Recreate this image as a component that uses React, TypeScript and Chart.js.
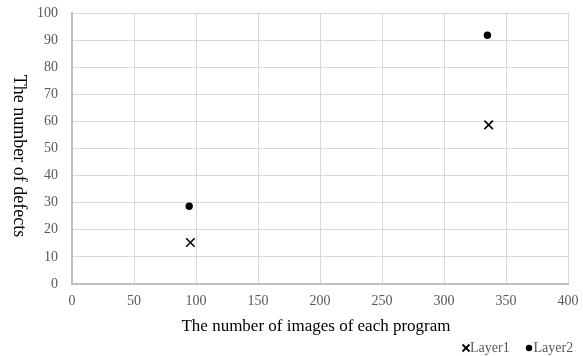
import React, { useEffect, useRef } from "react";
import { Chart, registerables } from "chart.js";

Chart.register(...registerables);

const seriesNames = ["Layer1", "Layer2"];
const layer1X = [95.5, 336];
const layer1Y = [15.3, 58.7];
const layer2X = [94.5, 335];
const layer2Y = [28.7, 91.8];
const xTitle = "The number of images of each program";
const yTitle = "The number of defects";

const SERIF = "'Liberation Serif', 'Times New Roman', serif";

const titlesPlugin = {
  id: "titlesAndLegend",
  afterDraw(chart: any) {
    const ctx = chart.ctx;
    ctx.save();
    // x title
    ctx.fillStyle = "#000";
    ctx.font = `17px ${SERIF}`;
    ctx.textAlign = "center";
    ctx.textBaseline = "alphabetic";
    ctx.fillText(xTitle, 316, 330.5);
    // y title (reads top to bottom)
    ctx.save();
    ctx.translate(19, 156);
    ctx.rotate(Math.PI / 2);
    ctx.font = `18px ${SERIF}`;
    ctx.textAlign = "center";
    ctx.textBaseline = "middle";
    ctx.fillText(yTitle, 0, 0);
    ctx.restore();
    // legend
    ctx.font = `14px ${SERIF}`;
    ctx.textAlign = "left";
    ctx.textBaseline = "alphabetic";
    ctx.strokeStyle = "#000";
    ctx.lineWidth = 1.8;
    const cx = 466, cy = 348, h = 3.5;
    ctx.beginPath();
    ctx.moveTo(cx - h, cy - h);
    ctx.lineTo(cx + h, cy + h);
    ctx.moveTo(cx + h, cy - h);
    ctx.lineTo(cx - h, cy + h);
    ctx.stroke();
    ctx.fillStyle = "#595959";
    ctx.fillText(seriesNames[0], 470, 351.7);
    ctx.fillStyle = "#000";
    ctx.beginPath();
    ctx.arc(529, 348, 3.2, 0, Math.PI * 2);
    ctx.fill();
    ctx.fillStyle = "#595959";
    ctx.fillText(seriesNames[1], 533.5, 351.7);
    ctx.restore();
  },
};

const zeroPad = (s: any) => {
  s.paddingTop = 0;
  s.paddingBottom = 0;
  s.paddingLeft = 0;
  s.paddingRight = 0;
};

export default function App() {
  const ref = useRef<HTMLCanvasElement | null>(null);
  useEffect(() => {
    if (!ref.current) return;
    const chart = new Chart(ref.current, {
      type: "scatter",
      data: {
        datasets: [
          {
            label: seriesNames[0],
            data: layer1X.map((x, i) => ({ x, y: layer1Y[i] })),
            pointStyle: "crossRot",
            pointRadius: 6,
            borderWidth: 1.6,
            borderColor: "#000",
            backgroundColor: "#000",
          },
          {
            label: seriesNames[1],
            data: layer2X.map((x, i) => ({ x, y: layer2Y[i] })),
            pointStyle: "circle",
            pointRadius: 3.7,
            borderWidth: 0,
            borderColor: "#000",
            backgroundColor: "#000",
          },
        ],
      },
      options: {
        responsive: false,
        animation: false,
        layout: { padding: { top: 13, right: 15, left: 0, bottom: 0 } },
        plugins: { legend: { display: false }, tooltip: { enabled: false } },
        scales: {
          x: {
            type: "linear",
            min: 0,
            max: 400,
            ticks: {
              stepSize: 50,
              padding: 9,
              color: "#595959",
              font: { family: SERIF, size: 14 },
            },
            grid: { color: "#d9d9d9", lineWidth: 1, drawTicks: false },
            border: { color: "#bfbfbf", width: 2 },
            afterFit: (s: any) => {
              s.height = 72;
              zeroPad(s);
            },
          },
          y: {
            type: "linear",
            min: 0,
            max: 100,
            ticks: {
              stepSize: 10,
              padding: 14,
              color: "#595959",
              font: { family: SERIF, size: 14 },
            },
            grid: { color: "#d9d9d9", lineWidth: 1, drawTicks: false },
            border: { color: "#bfbfbf", width: 2 },
            afterFit: (s: any) => {
              s.width = 72;
              zeroPad(s);
            },
          },
        },
      },
      plugins: [titlesPlugin],
    });
    return () => chart.destroy();
  }, []);
  return (
    <div style={{ position: "absolute", left: 0, top: 0, width: 583, height: 356, background: "#fff" }}>
      <canvas ref={ref} width={583} height={356} style={{ display: "block" }} />
    </div>
  );
}
